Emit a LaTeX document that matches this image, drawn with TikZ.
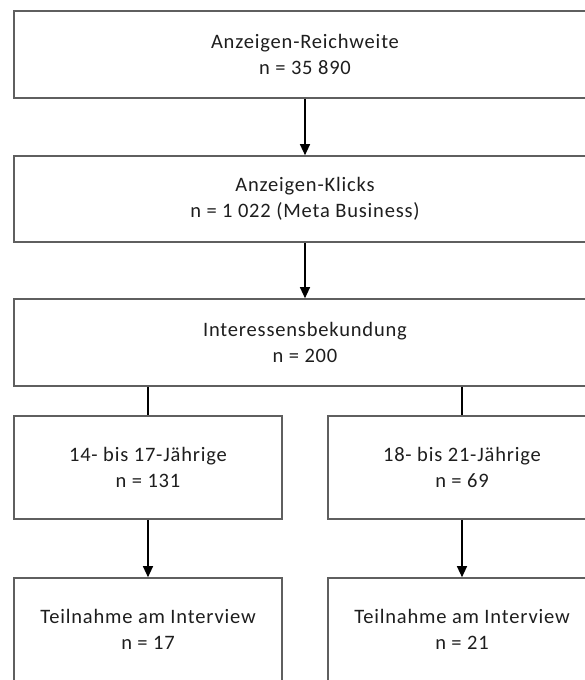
\documentclass[tikz,border=0pt]{standalone}
\usepackage{fontspec}
\setmainfont[LetterSpace=4]{Carlito}
\usetikzlibrary{arrows.meta}
\definecolor{boxline}{HTML}{5F5F5F}
\definecolor{txt}{HTML}{1E1E1E}
\tikzset{
  box/.style={draw=boxline, line width=1.6pt, fill=white, rectangle, inner sep=0pt,
    align=center, text=txt, font=\fontsize{20.5}{26}\selectfont},
  conn/.style={draw=black, line width=1.2pt},
  arr/.style={conn, -{Triangle[length=11pt,width=10pt]}}
}
\begin{document}
\begin{tikzpicture}[x=1pt,y=-1pt]
\useasboundingbox (0,0) rectangle (585,680);
\clip (0,0) rectangle (585,680);
\fill[white] (0,0) rectangle (585,680);
\node[box, minimum width=582pt, minimum height=87pt] (b1) at (305,54.5) {Anzeigen-Reichweite\\n = 35 890};
\node[box, minimum width=582pt, minimum height=86pt] (b2) at (305,199) {Anzeigen-Klicks\\n = 1 022 (Meta Business)};
\node[box, minimum width=582pt, minimum height=87pt] (b3) at (305,342.5) {Interessensbekundung\\n = 200};
\node[box, minimum width=268pt, minimum height=103pt] (b4) at (148,467.5) {14- bis 17-Jährige\\n = 131};
\node[box, minimum width=268pt, minimum height=103pt] (b5) at (462,467.5) {18- bis 21-Jährige\\n = 69};
\node[box, minimum width=268pt, minimum height=103pt] (b6) at (148,629.5) {Teilnahme am Interview\\n = 17};
\node[box, minimum width=268pt, minimum height=103pt] (b7) at (462,629.5) {Teilnahme am Interview\\n = 21};
\draw[arr] (b1.south) -- (b2.north);
\draw[arr] (b2.south) -- (b3.north);
\draw[conn] (b3.south -| b4.north) -- (b4.north);
\draw[conn] (b3.south -| b5.north) -- (b5.north);
\draw[arr] (b4.south) -- (b6.north);
\draw[arr] (b5.south) -- (b7.north);
\end{tikzpicture}
\end{document}
